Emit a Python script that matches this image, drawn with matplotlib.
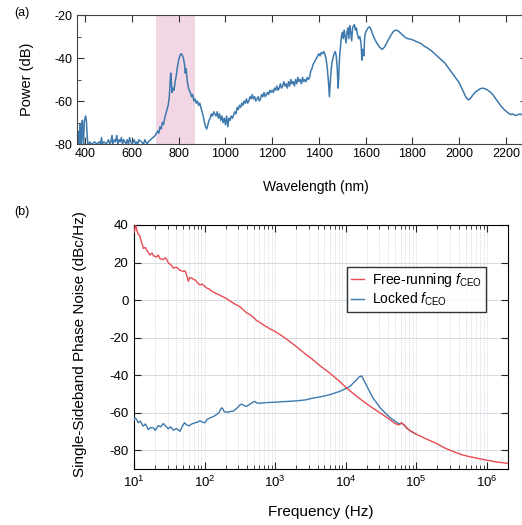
import numpy as np
import matplotlib
matplotlib.use("Agg")
import matplotlib.pyplot as plt
from matplotlib.ticker import MultipleLocator, LogLocator, NullFormatter

plt.rcParams['font.family'] = ['Liberation Sans', 'DejaVu Sans']
plt.rcParams['mathtext.fontset'] = 'custom'
plt.rcParams['mathtext.rm'] = 'Liberation Sans'
plt.rcParams['mathtext.it'] = 'Liberation Sans:italic'
plt.rcParams['axes.unicode_minus'] = False

# (a) spectrum
wavelength = [365, 368, 370, 373, 375, 378, 380, 383, 386, 388, 390, 393, 396, 399, 402, 405, 408, 411,
              415, 420, 425, 430, 440, 450, 460, 465, 470, 473, 480, 490, 500, 505, 510, 515, 518, 525,
              530, 535, 540, 545, 550, 555, 560, 565, 570, 575, 580, 585, 590, 595, 600, 605, 610, 615,
              620, 625, 630, 640, 650, 655, 660, 665, 670, 680, 690,
              700, 710, 715, 720, 725, 730, 735, 740, 745, 750, 755, 760, 763, 766, 769, 772, 775, 780,
              785, 790, 795, 800, 805, 810, 815, 820, 825, 828, 832, 836, 840, 845, 850, 855, 860, 865,
              870, 875, 880, 885, 890, 895, 900, 905, 910, 915, 920, 925, 930, 935, 940, 945, 950, 955,
              960, 965, 970, 975, 980, 985, 990, 995, 1000, 1005, 1010, 1015, 1020, 1025, 1030, 1040,
              1045, 1050, 1055, 1060, 1065, 1070, 1075, 1080, 1085, 1090, 1095, 1100, 1105, 1110, 1115,
              1120, 1125, 1130, 1135, 1140, 1145, 1150, 1155, 1160, 1165, 1170, 1175, 1180, 1185, 1190,
              1195, 1200, 1205, 1210, 1215, 1220, 1225, 1230, 1235, 1240, 1245, 1250, 1255, 1260, 1265,
              1270, 1275, 1280, 1285, 1290, 1295, 1300, 1305, 1310, 1315, 1320, 1325, 1330, 1335, 1340,
              1345, 1350, 1355, 1360, 1365, 1370, 1375, 1380, 1385, 1390, 1395, 1400, 1405, 1410, 1415,
              1420, 1425, 1430, 1435, 1440, 1445, 1448, 1452, 1456, 1460, 1465, 1470, 1474, 1478, 1482,
              1485, 1488, 1492, 1496, 1500, 1504, 1508, 1512, 1516, 1520, 1524, 1528, 1532, 1536, 1540,
              1544, 1548, 1552, 1556, 1560, 1565, 1570, 1575, 1580, 1584, 1588, 1592, 1596, 1600, 1605,
              1610, 1615, 1620, 1625, 1630, 1640, 1650, 1660, 1670, 1680, 1690, 1700, 1710, 1720, 1730,
              1740, 1750, 1760, 1770, 1780, 1790, 1800, 1810, 1820, 1830, 1840, 1850, 1860, 1870, 1880,
              1890, 1900, 1910, 1920, 1930, 1940, 1950, 1960, 1970, 1980, 1990, 2000, 2015, 2030, 2040,
              2050, 2060, 2070, 2080, 2090, 2100, 2110, 2120, 2130, 2140, 2150, 2160, 2170, 2180, 2190,
              2200, 2210, 2220, 2230, 2240, 2250, 2260, 2270, 2280, 2290]
power = [-80, -78, -80, -74, -80, -71, -79, -80, -72, -69, -75, -80, -70, -68, -67, -69, -75, -80,
         -80, -79, -80, -80, -79, -80, -79, -80, -77, -80, -79, -80, -78, -80, -79, -76, -80, -78,
         -79, -76, -80, -78, -79, -77, -80, -78, -79, -80, -78, -80, -77, -79, -80, -79, -78, -80,
         -79, -80, -78, -79, -80, -78, -79, -80, -79, -78, -77,
         -76, -74, -75, -72, -73, -70, -71, -68, -66, -64, -62, -58, -52, -47, -52, -56, -54, -55,
         -51, -48, -44, -41, -39, -38, -38.5, -40, -43, -47, -45, -50, -53, -55, -56, -58, -57, -60,
         -59, -61, -60, -62, -61, -63, -65, -67, -70, -72, -73, -71, -69, -68, -66, -67, -65, -66,
         -67, -65, -68, -66, -69, -67, -70, -68, -71, -67, -72, -68, -69, -67, -68, -65,
         -66, -63, -64, -62, -63, -61, -62, -60, -61, -59, -61, -60, -58, -59, -57,
         -59, -58, -60, -59, -58, -60, -59, -57, -58, -56, -58, -57, -56, -57, -55,
         -56, -55, -56, -54, -55, -53, -55, -54, -52, -54, -53, -51, -53, -52, -54,
         -51, -53, -50, -52, -51, -53, -50, -52, -49, -51, -50, -52, -49, -51, -50,
         -51, -49, -50, -49, -46, -45, -43, -42, -41, -40, -39, -38, -39, -37.5, -38,
         -37, -38, -40, -44, -50, -58, -52, -46, -42, -40, -38, -37, -39, -44, -54,
         -48, -40, -35, -30, -28, -31, -27, -30, -33, -28, -26, -31, -25, -28, -32,
         -26, -25, -24.5, -27, -26, -29, -31, -30, -33, -41, -36, -39, -30, -28, -27,
         -26, -25.5, -26, -27.5, -29, -31.5, -33.5, -35, -36, -35, -33, -31, -29, -27.5, -27,
         -27.5, -28.5, -29.5, -30.5, -31, -31.2, -31.5, -32, -32.5, -33, -33.5, -34.5, -35, -35.8, -36.5,
         -37.5, -38.5, -39.5, -40.5, -41.5, -42.5, -44, -45.5, -47, -48.5, -50, -51.5, -55, -58.5, -59.5,
         -58.5, -57, -55.8, -55, -54.3, -54, -54.3, -54.8, -55.6, -56.6, -58, -59.5, -61, -62.5, -63.7,
         -64.7, -65.6, -66.3, -66, -66.8, -66.4, -66, -66.5, -66, -65.5]
band_lo, band_hi = 705, 870

# (b) phase noise
free_f = [10, 10.3, 10.6, 11, 11.5, 12, 12.5, 13, 13.6, 14.5, 15.5, 16.9, 18, 19, 21, 22, 23.5, 26,
          27.5, 29, 31, 33, 36, 40, 44, 50, 53, 56, 59, 62, 66, 70, 75, 80, 86, 93, 100, 107, 115,
          125, 135, 148, 160, 180, 200, 229, 260, 318, 395, 450, 500, 550, 600, 700, 800, 1000, 1300,
          1600, 2000, 2600, 3460, 4500, 6000, 8000, 1e4, 1.3e4, 1.78e4, 2.3e4, 3.1e4, 4e4, 5e4,
          5.7e4, 6.2e4, 6.7e4, 7.5e4, 8.5e4, 1e5, 1.15e5, 1.3e5, 1.6e5, 1.9e5, 2.6e5, 3.5e5, 4.5e5,
          5.8e5, 8e5, 1e6, 1.4e6, 2e6]
free_db = [36, 38, 40, 37, 35, 34.5, 32, 30, 27.5, 28, 26, 24, 25, 23.5, 23, 24, 22, 21.5,
           22.5, 21.8, 19.5, 19, 17, 17.5, 16, 15.2, 15.5, 13, 10, 12, 11.7, 11, 10.5, 9, 8.1, 8.5,
           7.4, 6.4, 6, 4.8, 4.2, 3.4, 2.8, 1.8, 1, -0.5, -1.8, -3.6, -6.8, -8, -9.5, -11, -11.8,
           -13.5, -14.8, -16.8, -19.5, -22, -24.8, -28.3, -31.9, -35.5, -39, -43, -46.4, -50, -54,
           -57, -60.2, -63, -65.8, -66.5, -65.5, -66.5, -68.5, -70, -71.5, -72.5, -73.5, -75,
           -76.3, -79, -81, -82.5, -83.5, -84.6, -85.3, -86.3, -87]
locked_f = [10, 10.3, 10.8, 11.5, 12.3, 13.5, 14.5, 16, 17, 18.8, 20, 22, 24, 26, 28, 30.6, 33, 36,
            40, 45, 48, 52, 56, 60, 66, 72, 80, 86, 93, 100, 110, 120, 135, 149, 160, 170, 175, 182,
            190, 210, 235, 255, 290, 315, 334, 360, 395, 440, 480, 515, 550, 590, 700, 1000, 1500,
            2000, 2700, 3460, 4500, 6000, 8300, 1e4, 1.15e4, 1.3e4, 1.43e4, 1.55e4, 1.68e4, 1.8e4,
            1.96e4, 2.2e4, 2.44e4, 2.8e4, 3.1e4, 3.6e4, 4.3e4, 5e4, 5.7e4, 6.2e4, 6.7e4, 7.5e4,
            8.5e4, 1e5]
locked_db = [-64, -62.7, -63.5, -65.4, -64.5, -67.2, -66, -69, -68, -68.1, -69.5, -66.9, -67.5,
             -65.8, -67, -68.6, -67.5, -69.3, -68.5, -69.9, -67.5, -65.4, -66.5, -67, -66, -65.5,
             -65, -64.3, -65, -65.4, -63.5, -62.7, -62, -60.9, -60, -58, -57.4, -58, -59.5, -59.8,
             -59.3, -59.2, -57.5, -56, -55.4, -56.2, -56.6, -55.5, -54.5, -54, -54.8, -55, -54.7,
             -54.4, -54, -53.7, -53.2, -52.2, -51.5, -50.4, -48.6, -47.2, -46, -44, -42.5, -41,
             -40.4, -42.5, -45.2, -49, -52.2, -55.2, -57.5, -60, -62.8, -64.5, -66, -65.5, -66.5,
             -68.5, -70, -71.5]

blue = '#3d79ad'
red = '#e84a52'

fig = plt.figure(figsize=(5.22, 5.25), dpi=100)

# ---- panel (a)
ax1 = fig.add_axes([0.1475, 0.7257, 0.862, 0.2457])
ax1.axvspan(band_lo, band_hi, color='#f3d6e4', lw=0, zorder=0)
ax1.plot(wavelength, power, color=blue, lw=1.1, zorder=2)
ax1.set_xlim(365, 2290)
ax1.set_ylim(-80, -20)
ax1.xaxis.set_major_locator(MultipleLocator(200))
ax1.yaxis.set_major_locator(MultipleLocator(20))
ax1.yaxis.set_minor_locator(MultipleLocator(10))
ax1.tick_params(which='both', direction='in', top=True, right=True, labelsize=9,
                color='#333333', pad=3)
ax1.tick_params(which='major', length=5)
ax1.tick_params(which='minor', length=3)
for s in ax1.spines.values():
    s.set_color('#444444')
ax1.set_xlabel('Wavelength (nm)', fontsize=10)
ax1.set_ylabel('Power (dB)', fontsize=10.5)
ax1.xaxis.set_label_coords(0.53, -0.28)
ax1.yaxis.set_label_coords(-0.095, 0.5)

# ---- panel (b)
ax2 = fig.add_axes([0.2567, 0.1067, 0.7165, 0.4648])
ax2.plot(locked_f, locked_db, color=blue, lw=1.0, label=r'Locked $f_{\mathrm{CEO}}$', zorder=3)
ax2.plot(free_f, free_db, color=red, lw=1.0, label=r'Free-running $f_{\mathrm{CEO}}$', zorder=4)
ax2.set_xscale('log')
ax2.set_xlim(10, 2e6)
ax2.set_ylim(-90, 40)
ax2.yaxis.set_major_locator(MultipleLocator(20))
ax2.xaxis.set_major_locator(LogLocator(base=10, numticks=10))
ax2.xaxis.set_minor_locator(LogLocator(base=10, subs=np.arange(2, 10), numticks=20))
ax2.xaxis.set_minor_formatter(NullFormatter())
ax2.grid(True, which='major', axis='y', color='#d6dbe2', lw=0.7)
ax2.grid(True, which='both', axis='x', color='#d0d6de', lw=0.6, ls=(0, (1, 1)))
ax2.set_axisbelow(True)
ax2.tick_params(which='both', direction='in', top=True, right=True, labelsize=9.5,
                color='#222222', pad=4)
ax2.tick_params(which='major', length=5)
ax2.tick_params(which='minor', length=3)
ax2.set_xlabel('Frequency (Hz)', fontsize=11)
ax2.set_ylabel('Single-Sideband Phase Noise (dBc/Hz)', fontsize=11)
ax2.xaxis.set_label_coords(0.5, -0.148)
ax2.yaxis.set_label_coords(-0.125, 0.51)

handles, labels = ax2.get_legend_handles_labels()
leg = ax2.legend(handles[::-1], labels[::-1], loc='upper right', bbox_to_anchor=(0.941, 0.828),
                 fontsize=10, frameon=True, fancybox=False, handlelength=0.9, handletextpad=0.6,
                 borderpad=0.3, labelspacing=0.1, borderaxespad=0)
leg.get_frame().set_edgecolor('black')
leg.get_frame().set_linewidth(1.0)

fig.text(0.028, 0.975, '(a)', fontsize=9, va='center')
fig.text(0.027, 0.596, '(b)', fontsize=9, va='center')

fig.savefig('out.png', dpi=100)
